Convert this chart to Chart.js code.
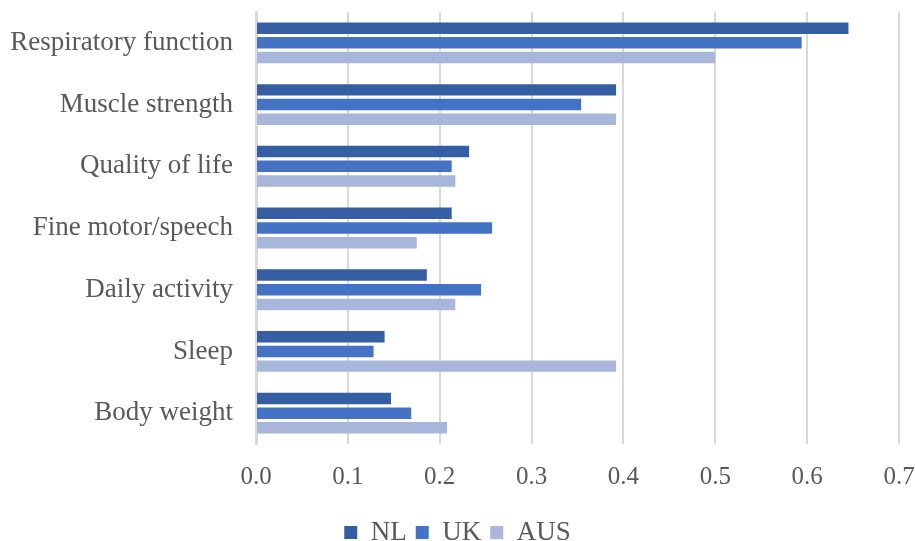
<!DOCTYPE html>
<html>
<head>
<meta charset="utf-8">
<script src="https://cdn.jsdelivr.net/npm/chart.js@4"></script>
<style>
  html, body { margin: 0; padding: 0; background: #fff; }
  #wrap { width: 915px; height: 541px; }
</style>
</head>
<body>
<div id="wrap"><canvas id="myChart" width="915" height="541"></canvas></div>
<script>
let categories = ["Respiratory function", "Muscle strength", "Quality of life", "Fine motor/speech", "Daily activity", "Sleep", "Body weight"];
let nlValues = [0.645, 0.392, 0.232, 0.213, 0.186, 0.140, 0.147];
let ukValues = [0.594, 0.354, 0.213, 0.257, 0.245, 0.128, 0.169];
let ausValues = [0.500, 0.392, 0.217, 0.175, 0.217, 0.392, 0.208];
let seriesNames = ["NL", "UK", "AUS"];
let barColors = ["#365fa3", "#4472c4", "#a9b6db"];

const font = "'Liberation Serif', 'Times New Roman', serif";

new Chart("myChart", {
    type: "bar",
    data: {
        labels: categories,
        datasets: [nlValues, ukValues, ausValues].map((d, i) => ({
            label: seriesNames[i],
            data: d,
            backgroundColor: barColors[i],
            categoryPercentage: 0.715,
            barPercentage: 0.78
        }))
    },
    options: {
        indexAxis: "y",
        responsive: false,
        animation: false,
        layout: { padding: { top: 12, right: 0, left: 0, bottom: -15 } },
        plugins: {
            legend: {
                position: "bottom",
                labels: {
                    font: { family: font, size: 27 },
                    color: "#595959",
                    boxWidth: 13,
                    boxHeight: 13,
                    padding: 9
                }
            },
            tooltip: { enabled: false }
        },
        scales: {
            x: {
                min: 0,
                max: 0.7,
                afterFit: scale => { scale.paddingLeft = 0; scale.paddingRight = 16; },
                ticks: {
                    stepSize: 0.1,
                    font: { family: font, size: 25 },
                    color: "#595959",
                    padding: 18,
                    callback: v => v.toFixed(1)
                },
                grid: { color: "#d9d9d9", lineWidth: 2, drawTicks: false },
                border: { display: false }
            },
            y: {
                afterFit: scale => { scale.width = 256; scale.paddingTop = 0; scale.paddingBottom = 0; },
                ticks: {
                    font: { family: font, size: 27 },
                    color: "#595959",
                    padding: 23
                },
                grid: { display: false, drawTicks: false },
                border: { color: "#d9d9d9", width: 3 }
            }
        }
    }
});
</script>
</body>
</html>
